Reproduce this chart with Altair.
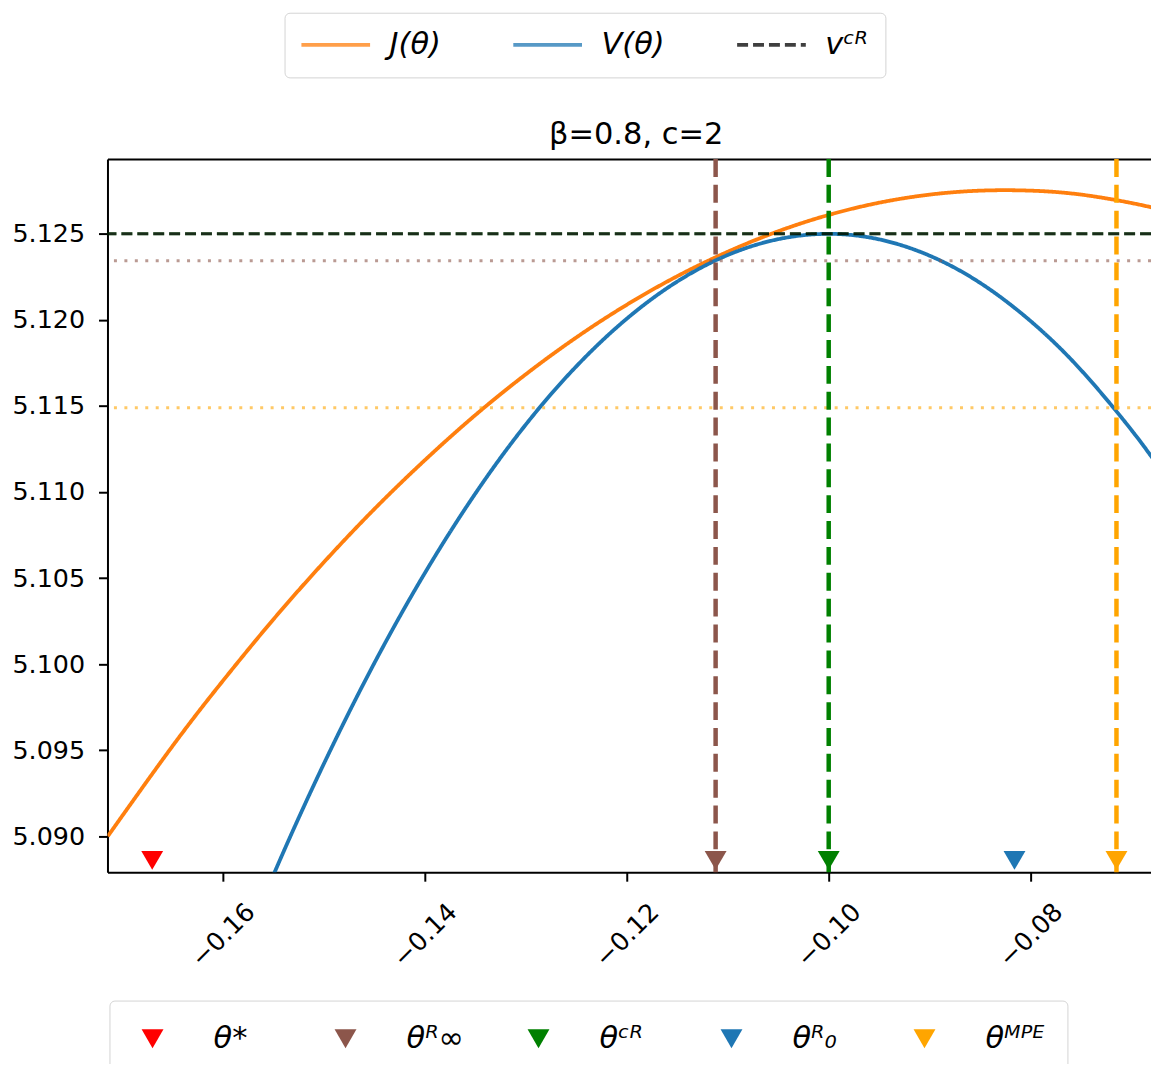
import altair as alt
import pandas as pd

# ---- data ----
theta_J = [-0.1714, -0.165, -0.16, -0.155, -0.15, -0.145, -0.14, -0.135, -0.13, -0.125, -0.12,
           -0.115, -0.11, -0.105, -0.10, -0.095, -0.09, -0.085, -0.08, -0.075, -0.07, -0.0672]
J_vals = [5.09000, 5.09523, 5.09903, 5.10260, 5.10592, 5.10901, 5.11185, 5.11447, 5.11684, 5.11898, 5.12088,
          5.12254, 5.12396, 5.12515, 5.12610, 5.12681, 5.12728, 5.12751, 5.12751, 5.12728, 5.12679, 5.12642]

theta_V = [-0.16, -0.155, -0.15, -0.145, -0.14, -0.135, -0.13, -0.125, -0.12, -0.115,
           -0.11, -0.105, -0.10, -0.095, -0.09, -0.085, -0.08, -0.075, -0.07, -0.0672]
V_vals = [5.08066, 5.08774, 5.09421, 5.10006, 5.10529, 5.10991, 5.11392, 5.11730, 5.12007, 5.12223,
          5.12377, 5.12469, 5.12500, 5.12468, 5.12373, 5.12215, 5.11993, 5.11708, 5.11359, 5.11136]

series_names = ["J(θ)", "V(θ)", "vᶜᴿ"]
series_colors = ["#ff7f0e", "#1f77b4", "#000000"]

v_cr = 5.125

marker_names = ["θ*", "θᴿ∞", "θᶜᴿ", "θᴿ₀", "θᴹᴾᴱ"]
marker_theta = [-0.1670, -0.1112, -0.1000, -0.0816, -0.0715]
marker_colors = ["#ff0000", "#8c564b", "#008000", "#1f77b4", "#ffa500"]
marker_level = 5.0886

vline_theta = [-0.1112, -0.1000, -0.0715]
vline_colors = ["#8c564b", "#008000", "#ffa500"]

hline_levels = [5.12344, 5.1149]
hline_colors = ["#8c564b", "#ffa500"]

title_text = "β=0.8, c=2"
x_domain = [-0.17143, -0.06808]
y_domain = [5.08791, 5.12935]
x_ticks = [-0.16, -0.14, -0.12, -0.10, -0.08]
y_ticks = [5.090, 5.095, 5.100, 5.105, 5.110, 5.115, 5.120, 5.125]

# ---- tables ----
curves = pd.concat([
    pd.DataFrame({"theta": theta_J, "value": J_vals, "series": series_names[0]}),
    pd.DataFrame({"theta": theta_V, "value": V_vals, "series": series_names[1]}),
], ignore_index=True)
vcr_df = pd.DataFrame({"value": [v_cr], "series": [series_names[2]]})
marker_df = pd.DataFrame({"theta": marker_theta, "value": [marker_level] * len(marker_theta),
                          "name": marker_names})
vline_df = pd.DataFrame({"theta": vline_theta, "color": vline_colors})
hline_df = pd.DataFrame({"value": hline_levels, "color": hline_colors})

FONT = "DejaVu Sans"

x_scale = alt.Scale(domain=x_domain, nice=False, zero=False)
y_scale = alt.Scale(domain=y_domain, nice=False, zero=False)
x_axis = alt.Axis(values=x_ticks, format=".2f", labelAngle=315, labelAlign="center",
                  labelBaseline="middle", labelPadding=54, labelFlush=False, labelOverlap=False,
                  title=None, grid=False)
y_axis = alt.Axis(values=y_ticks, format=".3f", labelPadding=14, labelFlush=False,
                  labelOverlap=False, title=None, grid=False)
top_axis = alt.Axis(orient="top", labels=False, ticks=False, domain=True, domainColor="black",
                    domainWidth=2, grid=False, title=title_text, titleFont=FONT,
                    titleFontSize=30.6, titleFontWeight="normal", titleColor="black",
                    titlePadding=16, titleBaseline="alphabetic", titleX=531)


def X(field):
    return alt.X(f"{field}:Q", scale=x_scale, axis=x_axis, title=None)


def Y(field):
    return alt.Y(f"{field}:Q", scale=y_scale, axis=y_axis, title=None)


top_legend = alt.Legend(
    title=None, orient="none", legendX=178, legendY=-147, direction="horizontal", columns=3,
    symbolType="M-1.18,0H4.13", symbolSize=676, symbolStrokeWidth=3.8, labelOffset=58,
    columnPadding=64, padding=17, strokeColor="#d4d4d4", fillColor="white", cornerRadius=5,
    labelFont=FONT, labelFontSize=30.6, labelFontStyle="italic", labelColor="black",
)
bottom_legend = alt.Legend(
    title=None, orient="none", legendX=2, legendY=846, direction="horizontal", columns=5,
    gridAlign="all", symbolType="triangle-down", symbolSize=484, symbolStrokeWidth=0,
    symbolOffset=5, labelOffset=46, columnPadding=53, padding=23, strokeColor="#d4d4d4",
    fillColor="white", cornerRadius=5, labelFont=FONT, labelFontSize=30.6,
    labelFontStyle="italic", labelColor="black",
)

color_lines = alt.Color("series:N", scale=alt.Scale(domain=series_names, range=series_colors),
                        legend=top_legend)
dash_lines = alt.StrokeDash("series:N",
                            scale=alt.Scale(domain=series_names, range=[[1, 0], [1, 0], [11, 5]]),
                            legend=top_legend)

lines = alt.Chart(curves).mark_line(strokeWidth=3.8, clip=True, interpolate="natural").encode(
    x=X("theta"), y=Y("value"), color=color_lines, strokeDash=dash_lines,
)
vcr_green = alt.Chart(vcr_df).mark_rule(color="#008000", strokeWidth=3, strokeDash=[11, 5],
                                         opacity=0.6).encode(y=Y("value"))
vcr_rule = alt.Chart(vcr_df).mark_rule(strokeWidth=3, opacity=0.75).encode(
    y=Y("value"), color=color_lines, strokeDash=dash_lines,
)
curve_group = alt.layer(lines, vcr_green, vcr_rule)

hlines = alt.Chart(hline_df).mark_rule(strokeWidth=3, strokeDash=[3, 7.5], opacity=0.6).encode(
    y=Y("value"), color=alt.Color("color:N", scale=None, legend=None),
)
vlines = alt.Chart(vline_df).mark_rule(strokeWidth=4.5, strokeDash=[18, 8]).encode(
    x=X("theta"), color=alt.Color("color:N", scale=None, legend=None),
)
markers = alt.Chart(marker_df).mark_point(shape="triangle-down", filled=True, size=484,
                                          opacity=1, clip=True).encode(
    x=X("theta"), y=Y("value"),
    color=alt.Color("name:N", scale=alt.Scale(domain=marker_names, range=marker_colors),
                    legend=bottom_legend),
)

inner = alt.layer(curve_group, hlines, vlines, markers).resolve_scale(
    color="independent", strokeDash="independent"
)
top_frame = alt.Chart(vline_df).mark_rule(opacity=0).encode(
    x=alt.X("theta:Q", scale=x_scale, axis=top_axis, title=title_text)
)

chart = alt.layer(inner, top_frame).resolve_axis(x="independent").properties(
    width=1049, height=717,
    padding={"left": 100, "top": 149, "right": 0, "bottom": 190},
    autosize=alt.AutoSizeParams(type="none"),
).configure(font=FONT).configure_view(stroke=None).configure_axis(
    labelFont=FONT, labelFontSize=25.5, labelColor="black", tickSize=9, tickWidth=2,
    tickColor="black", domainColor="black", domainWidth=2,
)

chart.save("out.html", embed_options={"renderer": "svg", "actions": False})
